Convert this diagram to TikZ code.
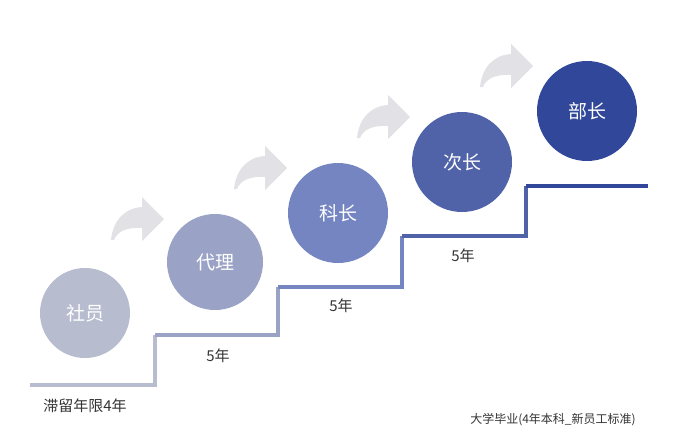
\documentclass[tikz,border=0pt]{standalone}
\usepackage{fontspec}
\newfontfamily\cjk{Noto Sans CJK SC}
\definecolor{lvA}{HTML}{B8BCCF}
\definecolor{lvB}{HTML}{9AA3C6}
\definecolor{lvC}{HTML}{7485C2}
\definecolor{lvD}{HTML}{5062A8}
\definecolor{lvE}{HTML}{30479A}
\definecolor{arrowgray}{HTML}{E2E2E6}
\tikzset{
  rank/.style={circle, minimum size=98pt, inner sep=0pt, text=white, font=\cjk\fontsize{19}{19}\selectfont},
  yearlbl/.style={font=\cjk\fontsize{15}{15}\selectfont, text=black!80},
  stair/.style={line width=4pt},
  hop/.pic={\fill[arrowgray] (0,0) .. controls (2,-20) and (14,-32) .. (31,-33) -- (31,-43) -- (53,-21) -- (31,1) -- (31,-12) .. controls (15,-13) and (6,-8) .. (3,0) -- cycle;}
}
\begin{document}
\begin{tikzpicture}[x=1pt,y=-1pt]
  \useasboundingbox (0,0) rectangle (675,447);
  % Escalera
  \draw[stair, lvA] (30,385) -- (155,385) -- (155,335);
  \draw[stair, lvB] (155,335) -- (278,335) -- (278,287);
  \draw[stair, lvC] (278,287) -- (402,287) -- (402,236);
  \draw[stair, lvD] (402,236) -- (526,236) -- (526,186);
  \draw[stair, lvE] (526,186) -- (648,186);
  % Flechas
  \foreach \i in {0,...,3}
    \pic at ({111+123*\i},{240-51*\i}) {hop};
  % Cargos
  \node[rank, fill=lvA, minimum size=90pt] (shain) at (85,313) {社员};
  \node[rank, fill=lvB, minimum size=96pt] (dairi) at (215,262) {代理};
  \node[rank, fill=lvC, minimum size=100pt] (kacho) at (338,213) {科长};
  \node[rank, fill=lvD, minimum size=100pt] (jicho) at (462,162) {次长};
  \node[rank, fill=lvE, minimum size=100pt] (bucho) at (587,111) {部长};
  % Años
  \node[yearlbl] (yearA) at (218,356) {5年};
  \node[yearlbl] (yearB) at (341,306) {5年};
  \node[yearlbl] (yearC) at (463,256) {5年};
  \node[yearlbl] (stay) at (85,406) {滞留年限4年};
  % Nota
  \node[font=\cjk\fontsize{12}{12}\selectfont, text=black!80] (note) at (553,420) {大学毕业(4年本科\_新员工标准)};
\end{tikzpicture}
\end{document}
